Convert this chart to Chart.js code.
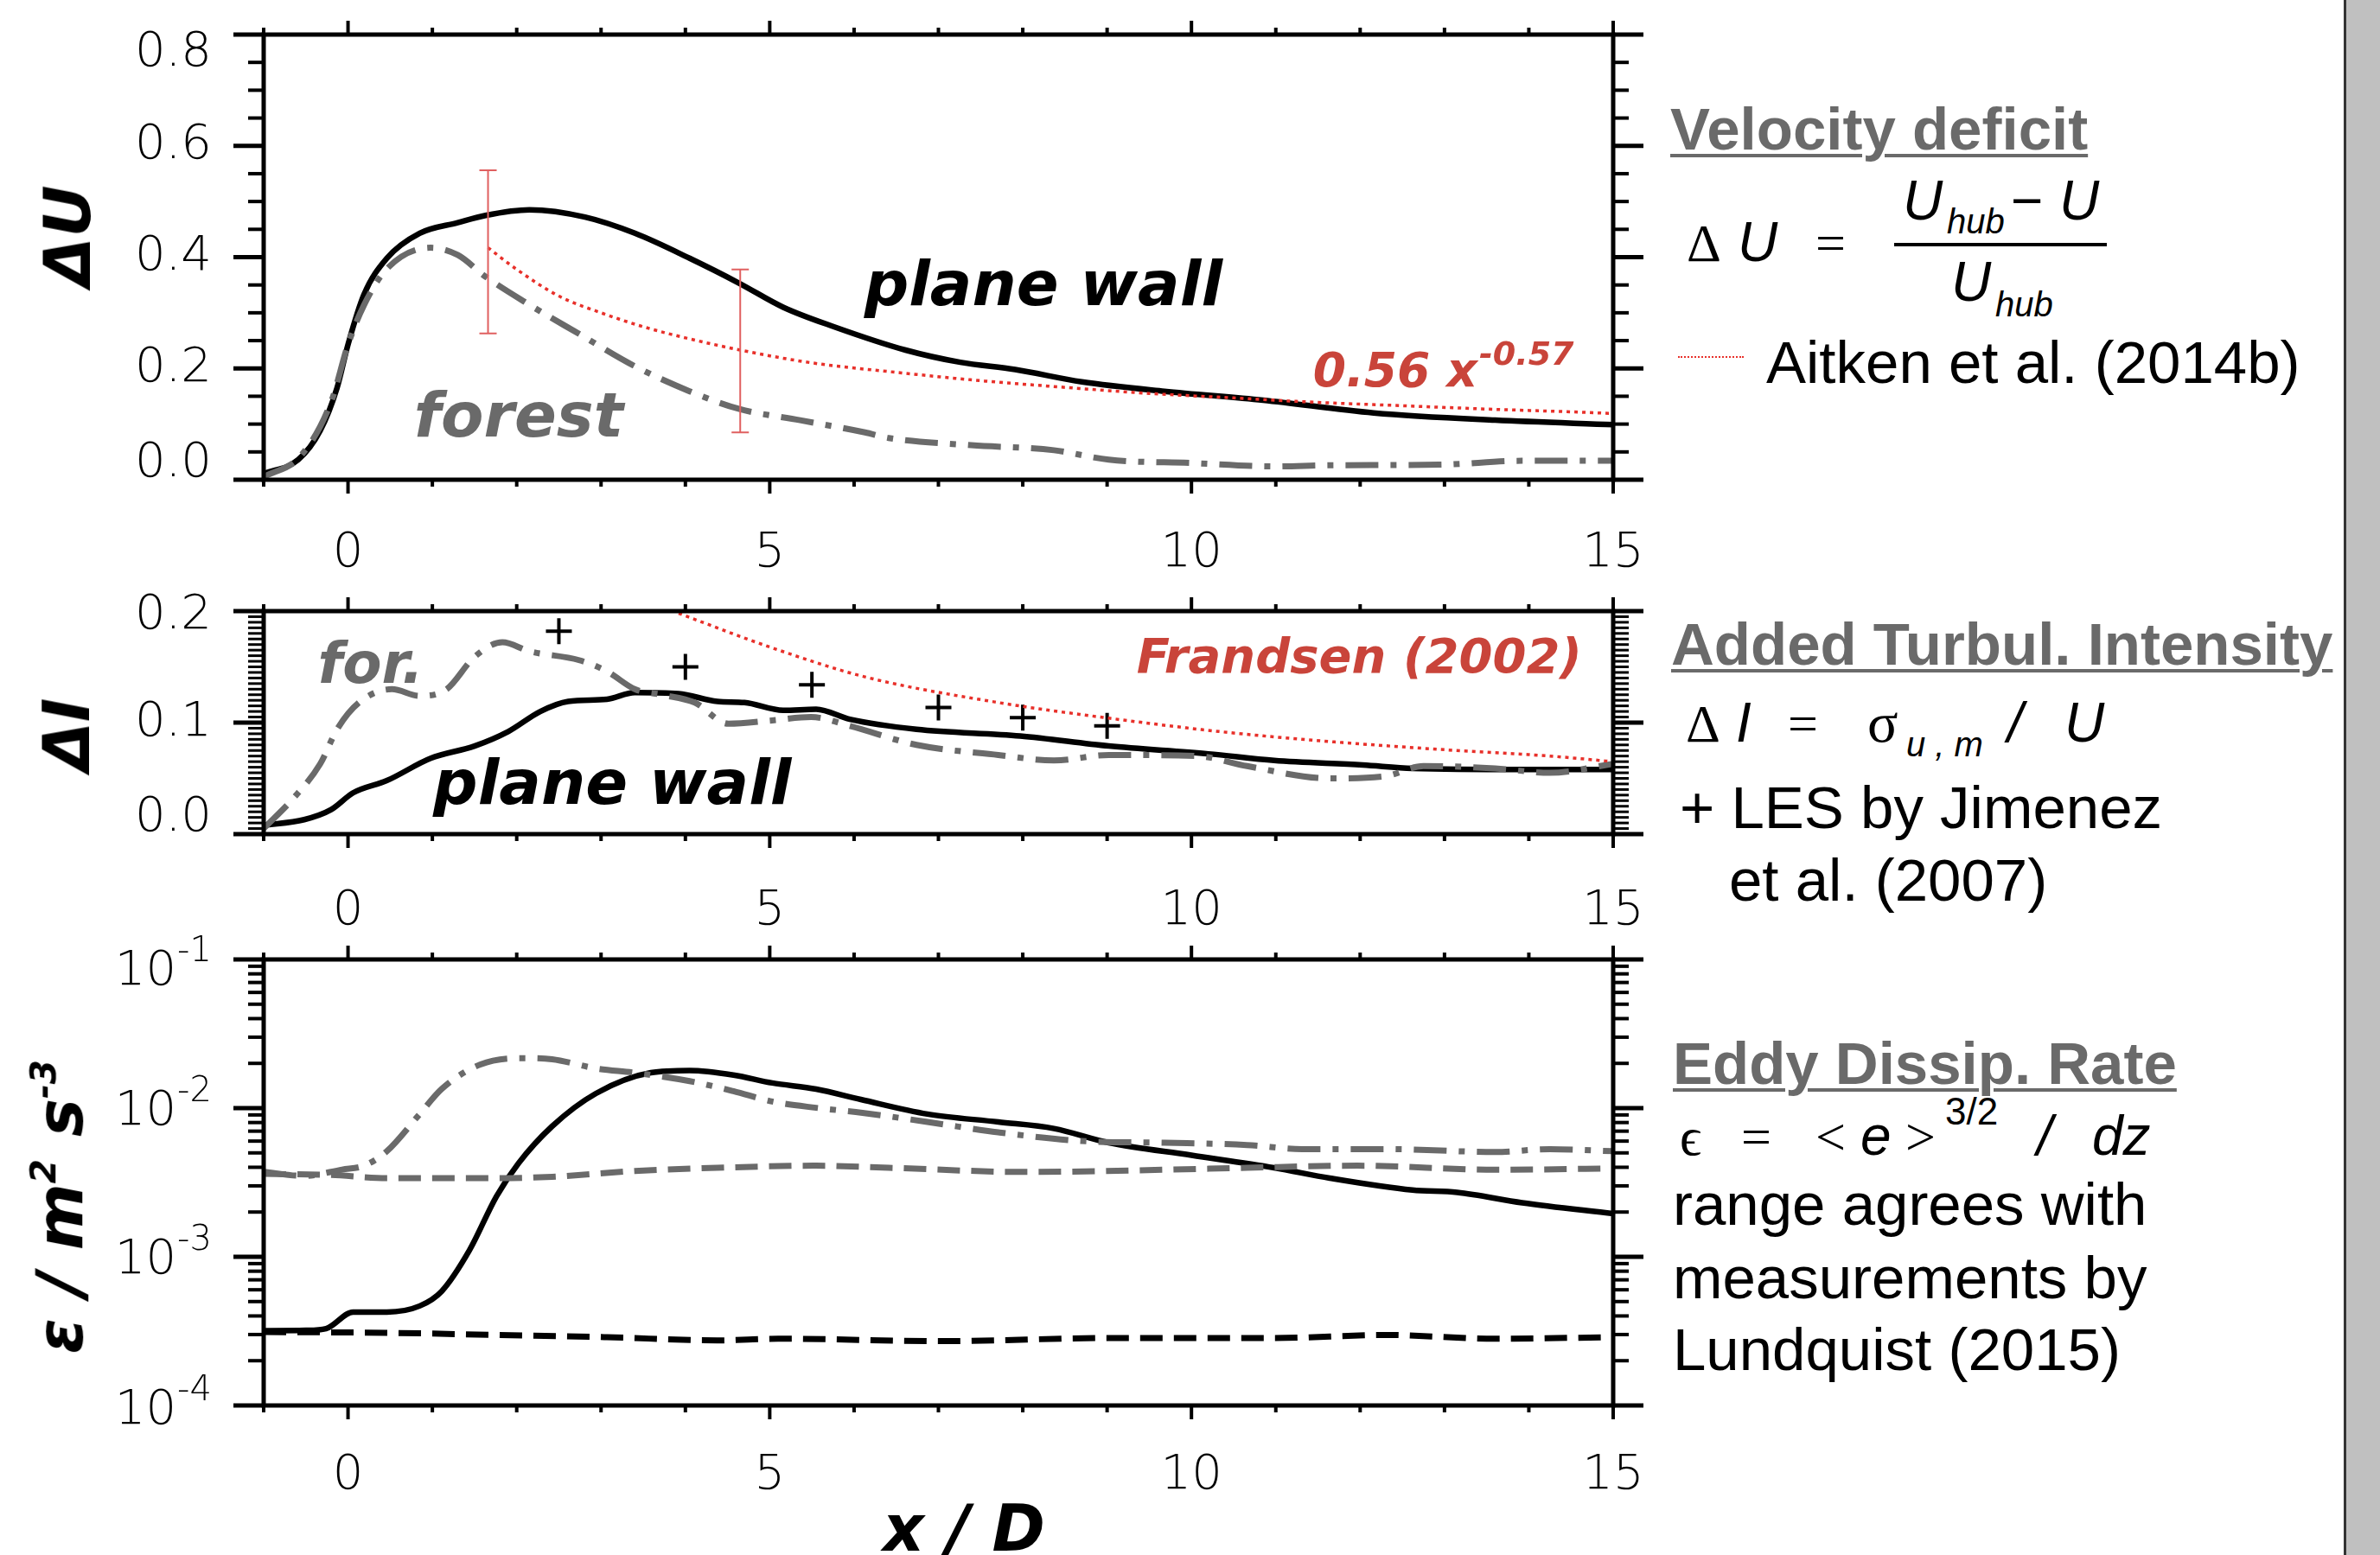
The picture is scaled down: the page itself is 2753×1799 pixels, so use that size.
<!DOCTYPE html>
<html>
<head>
<meta charset="utf-8">
<script src="https://cdn.jsdelivr.net/npm/chart.js@4.4.1/dist/chart.umd.min.js"></script>
<style>
html, body { margin: 0; padding: 0; background: #fff; }
#page { position: relative; width: 2753px; height: 1799px; overflow: hidden; background: #fff; }
canvas { position: absolute; left: 0; }
.t { position: absolute; white-space: nowrap; font-family: "Liberation Sans", Arial, sans-serif; font-size: 69px; color: #000; line-height: 1.2; }
.bl { display: inline-block; width: 0; height: 0; vertical-align: baseline; }
.head { font-weight: bold; color: #6a6a6a; text-decoration: underline; text-decoration-thickness: 4px; text-underline-offset: 5px; }
.ser { font-family: "Liberation Serif", "Times New Roman", serif; font-size: 62px; }
.it { font-style: italic; font-size: 64px; }
.sub { font-style: italic; font-size: 40px; }
.ttl { position: absolute; white-space: nowrap; font-family: "DejaVu Sans", sans-serif; font-style: italic; font-weight: bold; font-size: 74px; line-height: 1; color: #000; transform: translate(-50%, -50%) rotate(-90deg); }
.ttl sup { font-size: 0.55em; vertical-align: 0.75em; }
</style>
</head>
<body>
<div id="page">
  <canvas id="cU" width="1920" height="690" style="top:0px"></canvas>
  <canvas id="cI" width="1920" height="420" style="top:670px"></canvas>
  <canvas id="cE" width="1920" height="734" style="top:1065px"></canvas>

  <div class="ttl" style="left:78px;top:273px">ΔU</div>
  <div class="ttl" style="left:77px;top:850px">ΔI</div>
  <div class="ttl" style="left:68px;top:1396px">ε / m<sup>2</sup> s<sup>-3</sup></div>
  <div class="ttl" style="left:1115px;top:1768px;transform:translate(-50%,-50%)">x / D</div>

  <div style="position:absolute;left:2191px;top:281px;width:246px;height:4px;background:#000"></div>
  <div style="position:absolute;left:1941px;top:412px;width:76px;border-top:2px dotted #e8302a"></div>
  <div style="position:absolute;left:2711px;top:0;width:3px;height:1799px;background:#333"></div>
  <div style="position:absolute;left:2714px;top:0;width:39px;height:1799px;background:#c0c0c0"></div>
</div>

<script>
// shared x axis (x / D)
const xTickLabels = [0, 5, 10, 15];

// ---- velocity deficit panel ----
const duTickLabels = [0, 0.2, 0.4, 0.6, 0.8];
const duWallX = [-1, -0.59, -0.33, -0.13, 0, 0.19, 0.46, 0.85, 1.3, 1.63, 2.15, 2.81, 3.4, 4.05, 4.64, 5.16, 5.76, 6.61, 7.26, 7.91, 8.7, 9.68, 10.85, 12.16, 13.6, 15];
const duWall = [0.011, 0.036, 0.088, 0.165, 0.243, 0.333, 0.398, 0.443, 0.462, 0.475, 0.485, 0.472, 0.443, 0.398, 0.353, 0.31, 0.275, 0.233, 0.211, 0.198, 0.176, 0.159, 0.143, 0.12, 0.107, 0.099];
const duForestX = [-1, -0.56, -0.2, 0, 0.19, 0.46, 0.98, 1.3, 1.63, 2.09, 2.74, 3.4, 4.05, 4.64, 5.36, 6.13, 6.41, 7.39, 8.37, 9.02, 10.0, 10.98, 11.64, 12.94, 13.92, 15];
const duForest = [0.005, 0.043, 0.14, 0.243, 0.314, 0.379, 0.417, 0.404, 0.365, 0.32, 0.262, 0.204, 0.159, 0.127, 0.107, 0.085, 0.075, 0.062, 0.053, 0.036, 0.030, 0.024, 0.026, 0.027, 0.034, 0.034];
const duAitkenX = [1.66, 2, 2.5, 3, 3.5, 4, 4.65, 5.5, 6.5, 7.5, 8.5, 9.5, 10.5, 11.5, 12.5, 13.5, 14.5, 15];
const duAitken = [0.417, 0.378, 0.33, 0.30, 0.275, 0.255, 0.233, 0.21, 0.193, 0.178, 0.166, 0.155, 0.147, 0.139, 0.133, 0.127, 0.122, 0.119];
const errX = [1.66, 4.65];
const errLow = [0.263, 0.085];
const errHigh = [0.556, 0.378];

// ---- added turbulence intensity panel ----
const diTickLabels = [0, 0.1, 0.2];
const diWallX = [-1, -0.52, -0.2, 0.06, 0.46, 0.98, 1.5, 1.9, 2.28, 2.61, 3.07, 3.4, 3.92, 4.38, 4.7, 5.16, 5.55, 5.95, 6.74, 7.97, 9.02, 10.2, 10.98, 12.03, 12.62, 13.92, 15];
const diWall = [0.008, 0.013, 0.022, 0.037, 0.048, 0.068, 0.079, 0.092, 0.110, 0.119, 0.121, 0.127, 0.126, 0.119, 0.118, 0.111, 0.112, 0.103, 0.094, 0.088, 0.079, 0.072, 0.066, 0.062, 0.059, 0.058, 0.058];
const diForestX = [-1, -0.65, -0.33, -0.13, 0.13, 0.52, 0.85, 1.17, 1.5, 1.83, 2.15, 2.74, 3.07, 3.4, 3.72, 4.11, 4.51, 5.03, 5.49, 5.95, 6.74, 7.71, 8.37, 9.02, 10.07, 10.66, 11.64, 12.3, 12.75, 13.6, 14.25, 15];
const diForest = [0.005, 0.032, 0.063, 0.094, 0.118, 0.130, 0.124, 0.130, 0.159, 0.172, 0.164, 0.156, 0.146, 0.130, 0.125, 0.118, 0.099, 0.102, 0.105, 0.097, 0.080, 0.071, 0.066, 0.071, 0.070, 0.061, 0.050, 0.052, 0.061, 0.059, 0.055, 0.063];
const diFrandsenX = [3.92, 5.03, 6.13, 7.71, 9.02, 10.33, 11.64, 12.94, 14.25, 15];
const diFrandsen = [0.198, 0.167, 0.141, 0.118, 0.104, 0.092, 0.083, 0.076, 0.070, 0.065];
const lesX = [2.5, 4, 5.5, 7, 8, 9];
const les = [0.182, 0.150, 0.134, 0.1135, 0.1045, 0.097];

// ---- eddy dissipation rate panel ----
const epsTickLabels = [1e-4, 1e-3, 1e-2, 1e-1];
const epsWallX = [-1, -0.5, -0.26, 0.06, 0.46, 0.85, 1.11, 1.44, 1.76, 2.02, 2.42, 2.94, 3.59, 4.05, 4.57, 5.03, 5.55, 6.08, 6.87, 7.71, 8.37, 9.02, 10.0, 10.98, 11.64, 12.62, 13.15, 13.92, 15];
const epsWall = [3.18e-4, 3.2e-4, 3.29e-4, 4.25e-4, 4.25e-4, 4.67e-4, 5.86e-4, 1.107e-3, 2.55e-3, 4.25e-3, 7.55e-3, 1.256e-2, 1.73e-2, 1.79e-2, 1.67e-2, 1.476e-2, 1.343e-2, 1.143e-2, 9.12e-3, 8.07e-3, 7.29e-3, 5.85e-3, 4.82e-3, 3.97e-3, 3.38e-3, 2.81e-3, 2.71e-3, 2.31e-3, 1.95e-3];
const epsForestX = [-1, -0.52, -0.07, 0.19, 0.46, 0.85, 1.11, 1.57, 2.09, 2.42, 2.94, 3.4, 4.05, 4.57, 5.03, 5.55, 6.1, 6.87, 7.71, 8.7, 9.68, 10.66, 11.31, 12.3, 13.6, 14.25, 15];
const epsForest = [3.73e-3, 3.50e-3, 3.86e-3, 4.10e-3, 5.13e-3, 9.12e-3, 1.343e-2, 1.968e-2, 2.17e-2, 2.13e-2, 1.85e-2, 1.73e-2, 1.52e-2, 1.30e-2, 1.107e-2, 1.005e-2, 9.3e-3, 8.07e-3, 6.87e-3, 6.01e-3, 5.85e-3, 5.65e-3, 5.30e-3, 5.30e-3, 5.07e-3, 5.30e-3, 5.13e-3];
const epsForestBgX = [-1, -0.2, 0.46, 1.76, 2.42, 3.4, 4.38, 5.55, 6.41, 8.04, 9.68, 10.66, 11.97, 13.6, 15];
const epsForestBg = [3.61e-3, 3.55e-3, 3.38e-3, 3.38e-3, 3.45e-3, 3.78e-3, 3.97e-3, 4.10e-3, 3.97e-3, 3.72e-3, 3.85e-3, 3.97e-3, 4.10e-3, 3.85e-3, 3.93e-3];
const epsWallBgX = [-1, 0.46, 1.76, 3.07, 4.38, 5.1, 7.06, 9.02, 10.98, 12.3, 13.6, 15];
const epsWallBg = [3.12e-4, 3.08e-4, 2.98e-4, 2.88e-4, 2.74e-4, 2.81e-4, 2.71e-4, 2.84e-4, 2.84e-4, 2.98e-4, 2.81e-4, 2.88e-4];

const BLACK = '#000';
const GRAY = '#6a6a6a';
const RED = '#e8302a';
const RED_TEXT = '#c9443a';
const DASHDOT = [38, 14, 7, 14];
const DASHED = [26, 13];
const DOTTED = [4, 5];

const TICK_FAMILY = '"DejaVu Sans", sans-serif';
const tickFont = { family: TICK_FAMILY, size: 56, weight: 200 };

const pts = (xs, ys) => xs.map((x, i) => ({ x, y: ys[i] }));

function line(data, color, width, dash) {
  return {
    data, borderColor: color, borderWidth: width, borderDash: dash || [],
    pointRadius: 0, fill: false, cubicInterpolationMode: 'monotone'
  };
}

// minor tick positions on the y axes
const range = (a, b, step) => {
  const out = [];
  for (let i = 0; a + i * step <= b + 1e-9; i++) out.push(+(a + i * step).toFixed(6));
  return out;
};
const logMinor = [];
for (let e = -4; e < -1; e++) for (let m = 1; m < 10; m++) logMinor.push(m * Math.pow(10, e));
logMinor.push(0.1);

// frame, outward ticks on all four sides and the y labels
const framePlugin = {
  id: 'frame',
  afterDatasetsDraw(chart, args, opts) {
    const { ctx, chartArea: a, scales } = chart;
    const seg = (x1, y1, x2, y2, w) => {
      ctx.lineWidth = w;
      ctx.beginPath(); ctx.moveTo(x1, y1); ctx.lineTo(x2, y2); ctx.stroke();
    };
    ctx.save();
    ctx.strokeStyle = BLACK;
    for (let v = -1; v <= 15; v++) {
      const px = scales.x.getPixelForValue(v);
      const len = v % 5 === 0 ? 16 : 8;
      seg(px, a.top, px, a.top - len, 4);
      seg(px, a.bottom, px, a.bottom + len, 4);
    }
    opts.minor.forEach((v) => {
      const py = scales.y.getPixelForValue(v);
      const major = opts.major.some((m) => Math.abs(m - v) < 1e-9);
      const len = major ? 35 : 18;
      const w = major ? 5 : opts.minorWidth;
      seg(a.left, py, a.left - len, py, w);
      seg(a.right, py, a.right + len, py, w);
    });
    ctx.lineWidth = 5;
    ctx.strokeRect(a.left, a.top, a.right - a.left, a.bottom - a.top);

    // y labels, the two end labels pulled slightly inward as in the original
    ctx.fillStyle = BLACK;
    ctx.textBaseline = 'middle';
    ctx.textAlign = 'right';
    const xr = a.left - 60;
    opts.major.forEach((v, i) => {
      let py = scales.y.getPixelForValue(v);
      if (i === 0) py += opts.shift[0];
      if (i === opts.major.length - 1) py += opts.shift[1];
      ctx.font = `200 56px ${TICK_FAMILY}`;
      if (opts.log) {
        const ex = String(Math.round(Math.log10(v)));
        ctx.font = `200 40px ${TICK_FAMILY}`;
        const we = ctx.measureText(ex).width;
        ctx.fillText(ex, xr, py - 18);
        ctx.font = `200 56px ${TICK_FAMILY}`;
        ctx.fillText('10', xr - we - 1, py + 4);
      } else {
        ctx.fillText(v.toFixed(1), xr, py);
      }
    });
    ctx.restore();
  }
};

// red error bars on the velocity deficit panel
const errPlugin = {
  id: 'errbars',
  afterDatasetsDraw(chart, args, opts) {
    if (!opts.x) return;
    const { ctx, scales } = chart;
    ctx.save();
    ctx.strokeStyle = '#e06060';
    ctx.lineWidth = 2;
    opts.x.forEach((xv, i) => {
      const px = scales.x.getPixelForValue(xv);
      const y1 = scales.y.getPixelForValue(opts.low[i]);
      const y2 = scales.y.getPixelForValue(opts.high[i]);
      ctx.beginPath();
      ctx.moveTo(px, y1); ctx.lineTo(px, y2);
      ctx.moveTo(px - 10, y1); ctx.lineTo(px + 10, y1);
      ctx.moveTo(px - 10, y2); ctx.lineTo(px + 10, y2);
      ctx.stroke();
    });
    ctx.restore();
  }
};

// in-plot labels, placed in data coordinates
const notesPlugin = {
  id: 'notes',
  afterDatasetsDraw(chart, args, opts) {
    if (!opts.items) return;
    const { ctx, scales } = chart;
    ctx.save();
    ctx.textBaseline = 'alphabetic';
    ctx.textAlign = 'left';
    opts.items.forEach((n) => {
      const px = scales.x.getPixelForValue(n.x);
      const py = scales.y.getPixelForValue(n.y);
      ctx.fillStyle = n.color;
      ctx.font = `italic bold ${n.size}px "DejaVu Sans"`;
      ctx.fillText(n.text, px, py);
      if (n.sup) {
        const w = ctx.measureText(n.text).width;
        ctx.font = `italic bold ${n.supSize}px "DejaVu Sans"`;
        ctx.fillText(n.sup, px + w + 2, py - n.size * 0.45);
      }
    });
    ctx.restore();
  }
};

// invisible tick marks are used as label offset, so the edge padding stays small
const hiddenGrid = (len) => ({ display: true, drawOnChartArea: false, drawTicks: true, tickLength: len, color: 'rgba(0,0,0,0)' });

function panel(id, p) {
  return new Chart(document.getElementById(id), {
    type: 'line',
    data: { datasets: p.datasets },
    options: {
      responsive: false,
      animation: false,
      events: [],
      layout: { padding: { top: p.padTop, right: 54, left: 0, bottom: 0 } },
      plugins: {
        legend: { display: false },
        tooltip: { enabled: false },
        frame: { minor: p.minor, major: p.yTicks, minorWidth: p.minorWidth, shift: p.labelShift, log: p.yType === 'logarithmic' },
        errbars: p.err || {},
        notes: { items: p.notes || [] }
      },
      scales: {
        x: {
          type: 'linear', min: -1, max: 15,
          grid: hiddenGrid(p.xPad), border: { display: false },
          afterBuildTicks: (s) => { s.ticks = xTickLabels.map((v) => ({ value: v })); },
          afterFit: (s) => { s.height = p.xHeight; },
          ticks: { padding: 0, font: tickFont, color: BLACK, maxRotation: 0, autoSkip: false, callback: (v) => String(v) }
        },
        y: {
          type: p.yType, min: p.yMin, max: p.yMax,
          grid: { display: false }, border: { display: false },
          afterBuildTicks: (s) => { s.ticks = p.yTicks.map((v) => ({ value: v, major: true })); },
          afterFit: (s) => { s.width = 305; },
          ticks: { display: false }
        }
      }
    },
    plugins: [framePlugin, errPlugin, notesPlugin]
  });
}

panel('cU', {
  padTop: 40, xHeight: 135, xPad: 52,
  yType: 'linear', yMin: 0, yMax: 0.8, yTicks: duTickLabels, labelShift: [-19, 21],
  minor: range(0, 0.8, 0.05), minorWidth: 4,
  datasets: [
    line(pts(duAitkenX, duAitken), RED, 3.5, DOTTED),
    line(pts(duForestX, duForest), GRAY, 7, DASHDOT),
    line(pts(duWallX, duWall), BLACK, 6.5)
  ],
  err: { x: errX, low: errLow, high: errHigh },
  notes: [
    { text: 'plane wall', x: 6.12, y: 0.314, color: BLACK, size: 72 },
    { text: 'forest', x: 0.78, y: 0.078, color: GRAY, size: 72 },
    { text: '0.56 x', sup: '-0.57', x: 11.44, y: 0.168, color: RED_TEXT, size: 55, supSize: 38 }
  ]
});

panel('cI', {
  padTop: 37, xHeight: 125, xPad: 56,
  yType: 'linear', yMin: 0, yMax: 0.2, yTicks: diTickLabels, labelShift: [-19, 5],
  minor: range(0, 0.2, 0.005), minorWidth: 3,
  datasets: [
    line(pts(diFrandsenX, diFrandsen), RED, 3.5, DOTTED),
    line(pts(diForestX, diForest), GRAY, 7, DASHDOT),
    line(pts(diWallX, diWall), BLACK, 6.5),
    {
      data: pts(lesX, les), showLine: false, pointStyle: 'cross',
      pointRadius: 15, pointBorderWidth: 4, borderColor: BLACK, backgroundColor: BLACK
    }
  ],
  notes: [
    { text: 'for.', x: -0.36, y: 0.136, color: GRAY, size: 66 },
    { text: 'plane wall', x: 1.01, y: 0.027, color: BLACK, size: 72 },
    { text: 'Frandsen (2002)', x: 9.35, y: 0.145, color: RED_TEXT, size: 56 }
  ]
});

panel('cE', {
  padTop: 45, xHeight: 173, xPad: 48,
  yType: 'logarithmic', yMin: 1e-4, yMax: 1e-1, yTicks: epsTickLabels, labelShift: [2, 10],
  minor: logMinor, minorWidth: 4,
  datasets: [
    line(pts(epsWallBgX, epsWallBg), BLACK, 7, DASHED),
    line(pts(epsForestBgX, epsForestBg), GRAY, 7, DASHED),
    line(pts(epsForestX, epsForest), GRAY, 7, DASHDOT),
    line(pts(epsWallX, epsWall), BLACK, 6.5)
  ]
});

// right-hand explanation column, placed by baseline
const page = document.getElementById('page');
function put(html, x, base, cls, style) {
  const d = document.createElement('div');
  d.className = 't ' + (cls || '');
  if (style) d.setAttribute('style', style);
  d.innerHTML = html + '<span class="bl"></span>';
  d.style.left = x + 'px';
  d.style.top = '0px';
  page.appendChild(d);
  const off = d.querySelector('.bl').offsetTop;
  d.style.top = (base - off) + 'px';
}

put('Velocity deficit', 1932, 173, 'head');
put('\u0394', 1951, 302, 'ser');
put('U', 2010, 302, 'it');
put('=', 2100, 302, 'ser');
put('U', 2201, 254, 'it');
put('hub', 2252, 270, 'sub');
put('\u2212', 2326, 254, 'it', 'font-style:normal');
put('U', 2382, 254, 'it');
put('U', 2257, 348, 'it');
put('hub', 2308, 366, 'sub');
put('Aitken et al. (2014b)', 2043, 443);

put('Added Turbul. Intensity', 1933, 769, 'head');
put('\u0394', 1950, 858, 'ser');
put('I', 2008, 858, 'it');
put('=', 2068, 858, 'ser');
put('\u03C3', 2160, 858, 'ser', 'font-size:66px');
put('u , m', 2205, 875, 'sub');
put('/', 2322, 858, 'it');
put('U', 2388, 858, 'it');
put('+ LES by Jimenez', 1943, 958);
put('et al. (2007)', 2000, 1042);

put('Eddy Dissip. Rate', 1935, 1254, 'head');
put('\u03F5', 1943, 1336, 'ser');
put('=', 2014, 1336, 'ser');
put('&lt;', 2100, 1336, 'ser');
put('e', 2152, 1336, 'it');
put('&gt;', 2204, 1336, 'ser');
put('3/2', 2250, 1301, '', 'font-size:44px');
put('/', 2356, 1336, 'it');
put('dz', 2420, 1336, 'it');
put('range agrees with', 1935, 1417);
put('measurements by', 1935, 1502);
put('Lundquist (2015)', 1935, 1585);
</script>
</body>
</html>
